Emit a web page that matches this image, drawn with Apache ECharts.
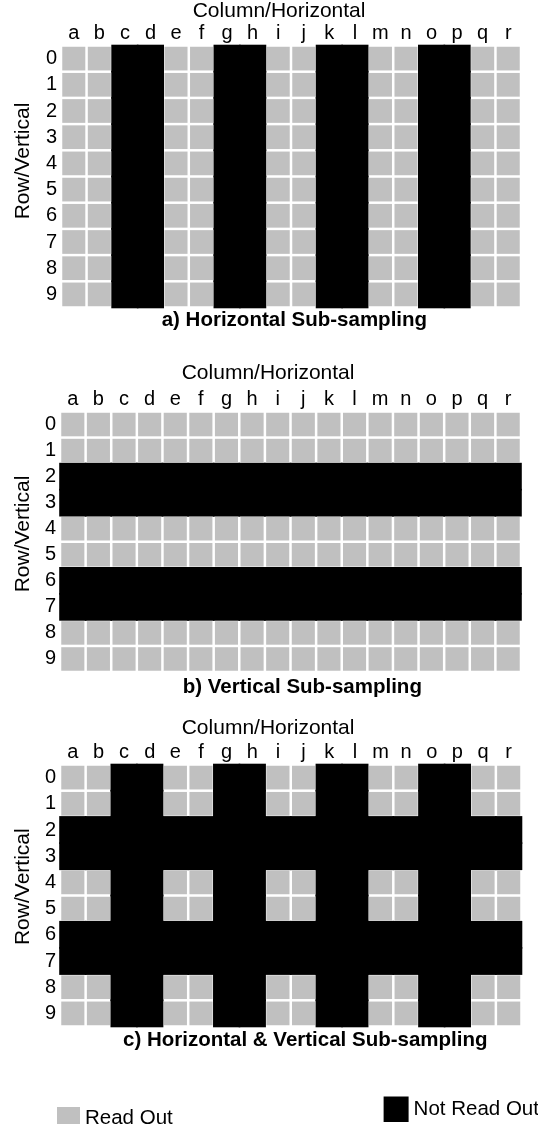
<!DOCTYPE html>
<html>
<head>
<meta charset="utf-8">
<script src="https://cdn.jsdelivr.net/npm/echarts@6/dist/echarts.min.js"></script>
<style>
html,body{margin:0;padding:0;background:#fff;}
#chart{width:538px;height:1124px;}
</style>
</head>
<body>
<div id="chart"></div>
<script>
// ---- data ----
const columns = ['a','b','c','d','e','f','g','h','i','j','k','l','m','n','o','p','q','r'];
const rows = ['0','1','2','3','4','5','6','7','8','9'];
const panelTitles = ['a) Horizontal Sub-sampling', 'b) Vertical Sub-sampling', 'c) Horizontal & Vertical Sub-sampling'];
const axisTitleX = 'Column/Horizontal';
const axisTitleY = 'Row/Vertical';
const legendNames = ['Read Out', 'Not Read Out'];
// columns / rows that are skipped (not read out) in each panel
const skippedColumnsA = ['c','d','g','h','k','l','o','p'];
const skippedRowsA = [];
const skippedColumnsB = [];
const skippedRowsB = ['2','3','6','7'];
const skippedColumnsC = ['c','d','g','h','k','l','o','p'];
const skippedRowsC = ['2','3','6','7'];

const panels = [
  {cols: skippedColumnsA, rows: skippedRowsA},
  {cols: skippedColumnsB, rows: skippedRowsB},
  {cols: skippedColumnsC, rows: skippedRowsC}
];

// ---- layout ----
const FONT = "'Liberation Sans', Arial, sans-serif";
const gridBoxes = [
  {left: 61, top: 45.5, width: 460, height: 262},
  {left: 60, top: 411.5, width: 461, height: 260.5},
  {left: 60, top: 764.5, width: 461.5, height: 262}
];
const colTitlePos = [{x: 192.7, y: 12}, {x: 181.7, y: 373.7}, {x: 181.7, y: 728.7}];
const rowTitlePos = [{x: 23.5, y: 161}, {x: 23.5, y: 534}, {x: 23.5, y: 886.7}];
const panelTitlePos = [{x: 161.7, y: 320.3}, {x: 182.7, y: 687.5}, {x: 123, y: 1040.8}];

function cellsFor(p, wantSkipped) {
  const out = [];
  rows.forEach((r, ri) => {
    columns.forEach((c, ci) => {
      const skipped = p.cols.includes(c) || p.rows.includes(r);
      if (skipped === wantSkipped) out.push([ci, ri]);
    });
  });
  return out;
}

function makeRender(inset) {
  return function (params, api) {
    const pt = api.coord([api.value(0), api.value(1)]);
    const sz = api.size([1, 1]);
    return {
      type: 'rect',
      shape: {
        x: pt[0] - sz[0] / 2 + inset,
        y: pt[1] - sz[1] / 2 + inset,
        width: sz[0] - 2 * inset,
        height: sz[1] - 2 * inset
      },
      style: api.style()
    };
  };
}

const grid = [], xAxis = [], yAxis = [], series = [], graphic = [];
gridBoxes.forEach((g, i) => {
  grid.push(Object.assign({containLabel: false}, g));
  xAxis.push({
    type: 'category', gridIndex: i, data: columns, position: 'top',
    axisLine: {show: false}, axisTick: {show: false}, splitLine: {show: false},
    axisLabel: {color: '#000', fontSize: 20, fontFamily: FONT, margin: 2, interval: 0}
  });
  yAxis.push({
    type: 'category', gridIndex: i, data: rows, inverse: true,
    axisLine: {show: false}, axisTick: {show: false}, splitLine: {show: false},
    axisLabel: {color: '#000', fontSize: 20, fontFamily: FONT, margin: 4, interval: 0}
  });
  series.push({
    type: 'custom', name: legendNames[0], xAxisIndex: i, yAxisIndex: i,
    renderItem: makeRender(1.25), itemStyle: {color: '#c0c0c0'},
    data: cellsFor(panels[i], false), silent: true, animation: false
  });
  series.push({
    type: 'custom', name: legendNames[1], xAxisIndex: i, yAxisIndex: i,
    renderItem: makeRender(-0.8), itemStyle: {color: '#000000'},
    data: cellsFor(panels[i], true), silent: true, animation: false, z: 3
  });
  graphic.push({
    type: 'text', left: colTitlePos[i].x, top: colTitlePos[i].y - 11,
    style: {text: axisTitleX, fill: '#000', font: '21px ' + FONT}
  });
  graphic.push({
    type: 'text', x: rowTitlePos[i].x, y: rowTitlePos[i].y, rotation: Math.PI / 2,
    style: {text: axisTitleY, fill: '#000', font: '21px ' + FONT, align: 'center', verticalAlign: 'middle'}
  });
  graphic.push({
    type: 'text', x: panelTitlePos[i].x, y: panelTitlePos[i].y,
    style: {text: panelTitles[i], fill: '#000', font: 'bold 20.5px ' + FONT, align: 'left', verticalAlign: 'middle'}
  });
});

const chart = echarts.init(document.getElementById('chart'), null, {renderer: 'canvas'});
chart.setOption({
  animation: false,
  backgroundColor: '#ffffff',
  grid, xAxis, yAxis, series, graphic,
  legend: [
    {data: [legendNames[0]], left: 52, top: 1102, itemWidth: 23, itemHeight: 23, icon: 'rect',
     selectedMode: false, textStyle: {color: '#000', fontSize: 20.5, fontFamily: FONT}},
    {data: [legendNames[1]], left: 378.6, top: 1091.5, itemWidth: 25, itemHeight: 25.5, icon: 'rect',
     selectedMode: false, textStyle: {color: '#000', fontSize: 20.5, fontFamily: FONT}}
  ]
});
</script>
</body>
</html>
